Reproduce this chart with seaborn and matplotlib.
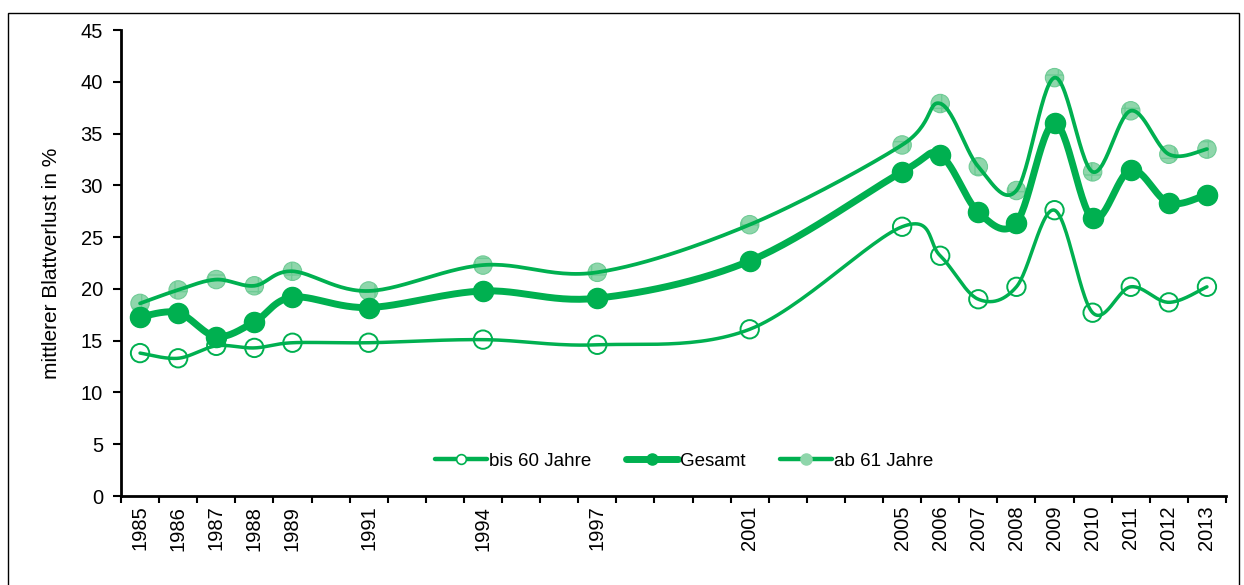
import numpy as np
import pandas as pd
import matplotlib
matplotlib.use("Agg")
import matplotlib.pyplot as plt
from matplotlib.lines import Line2D
from matplotlib.patches import Rectangle
import seaborn as sns

######### data ##############
years = [1985, 1986, 1987, 1988, 1989, 1991, 1994, 1997, 2001,
         2005, 2006, 2007, 2008, 2009, 2010, 2011, 2012, 2013]
bis60 = [13.8, 13.3, 14.5, 14.3, 14.8, 14.8, 15.1, 14.6, 16.1,
         26.0, 23.2, 19.0, 20.2, 27.6, 17.7, 20.2, 18.7, 20.2]
gesamt = [17.3, 17.7, 15.4, 16.8, 19.2, 18.2, 19.8, 19.1, 22.7,
          31.3, 32.9, 27.4, 26.4, 36.0, 26.8, 31.5, 28.3, 29.1]
ab61 = [18.6, 19.9, 20.9, 20.3, 21.7, 19.8, 22.3, 21.6, 26.2,
        33.9, 37.9, 31.8, 29.5, 40.4, 31.3, 37.2, 33.0, 33.5]
labels = ["bis 60 Jahre", "Gesamt", "ab 61 Jahre"]

green = "#00B050"
light = "#8fd6ab"

sns.set_style("white")
plt.rcParams["font.family"] = ["Liberation Sans", "DejaVu Sans"]
plt.rcParams["text.color"] = "black"
plt.rcParams["xtick.color"] = "black"
plt.rcParams["ytick.color"] = "black"
plt.rcParams["axes.labelcolor"] = "black"
plt.rcParams["hatch.color"] = "#5cc48a"


def smooth(x, y, n=30, t=1 / 6):
    # Excel-like smoothed line (Catmull-Rom as cubic bezier)
    x = np.asarray(x, float)
    y = np.asarray(y, float)
    px, py = [], []
    s = np.linspace(0, 1, n)
    for i in range(len(x) - 1):
        i0, i3 = max(i - 1, 0), min(i + 2, len(x) - 1)
        c1x = x[i] + (x[i + 1] - x[i0]) * t
        c1y = y[i] + (y[i + 1] - y[i0]) * t
        c2x = x[i + 1] - (x[i3] - x[i]) * t
        c2y = y[i + 1] - (y[i3] - y[i]) * t
        bx = (1 - s) ** 3 * x[i] + 3 * (1 - s) ** 2 * s * c1x + 3 * (1 - s) * s ** 2 * c2x + s ** 3 * x[i + 1]
        by = (1 - s) ** 3 * y[i] + 3 * (1 - s) ** 2 * s * c1y + 3 * (1 - s) * s ** 2 * c2y + s ** 3 * y[i + 1]
        px.extend(bx)
        py.extend(by)
    return np.array(px), np.array(py)


fig = plt.figure(figsize=(12.44, 5.85), dpi=100)
ax = fig.add_axes([121 / 1244, 1 - 496 / 585, 1105 / 1244, 466 / 585])

# ab 61 Jahre
ax.scatter(years, ab61, s=175, facecolor=light, edgecolor="#6fcb95",
           linewidth=0.8, hatch="+", zorder=2)
sx, sy = smooth(years, ab61)
sns.lineplot(x=sx, y=sy, color=green, linewidth=2.7, sort=False, ax=ax, zorder=3)

# Gesamt
sx, sy = smooth(years, gesamt)
sns.lineplot(x=sx, y=sy, color=green, linewidth=5, sort=False, ax=ax, zorder=3)
ax.scatter(years, gesamt, s=210, color=green, zorder=4)

# bis 60 Jahre
sx, sy = smooth(years, bis60)
sns.lineplot(x=sx, y=sy, color=green, linewidth=2.5, sort=False, ax=ax, zorder=3)
ax.scatter(years, bis60, s=175, facecolor="none", edgecolor=green, linewidth=1.4, zorder=4)

ax.set_xlim(1984.5, 2013.5)
ax.set_ylim(0, 45)
ax.set_yticks(range(0, 46, 5))
ax.set_xticks(np.arange(1984.5, 2014, 1))
ax.set_xticklabels([])
ax.set_xticks(years, minor=True)
ax.set_xticklabels([str(y) for y in years], minor=True, rotation=90)
ax.tick_params(axis="x", which="minor", bottom=False, length=0, labelsize=14.5, pad=7)
ax.tick_params(axis="x", which="major", bottom=True, direction="out", length=5, width=1.5)
ax.tick_params(axis="y", left=True, direction="out", length=6, width=1.5, labelsize=14.5, pad=7)
ax.set_ylabel("mittlerer Blattverlust in %", fontsize=15, labelpad=14)

for side in ["top", "right"]:
    ax.spines[side].set_visible(False)
for side in ["left", "bottom"]:
    ax.spines[side].set_color("black")
    ax.spines[side].set_linewidth(2)

handles = [
    Line2D([], [], color=green, linewidth=3.2, marker="o", markersize=7,
           markerfacecolor="white", markeredgecolor=green, markeredgewidth=1.2),
    Line2D([], [], color=green, linewidth=5, marker="o", markersize=8,
           markerfacecolor=green, markeredgecolor=green),
    Line2D([], [], color=green, linewidth=3.2, marker="o", markersize=8,
           markerfacecolor=light, markeredgecolor=light),
]
ax.legend(handles, labels, loc="center", bbox_to_anchor=(0.5095, 0.075), ncol=3,
          frameon=False, fontsize=13.5, handlelength=2.77, handletextpad=0.1,
          columnspacing=1.87)

fig.patches.append(Rectangle((8 / 1244, -0.05), 1231 / 1244, 1.05 - 13 / 585,
                             transform=fig.transFigure, fill=False,
                             edgecolor="black", linewidth=1))

fig.savefig("out.png", dpi=100)
